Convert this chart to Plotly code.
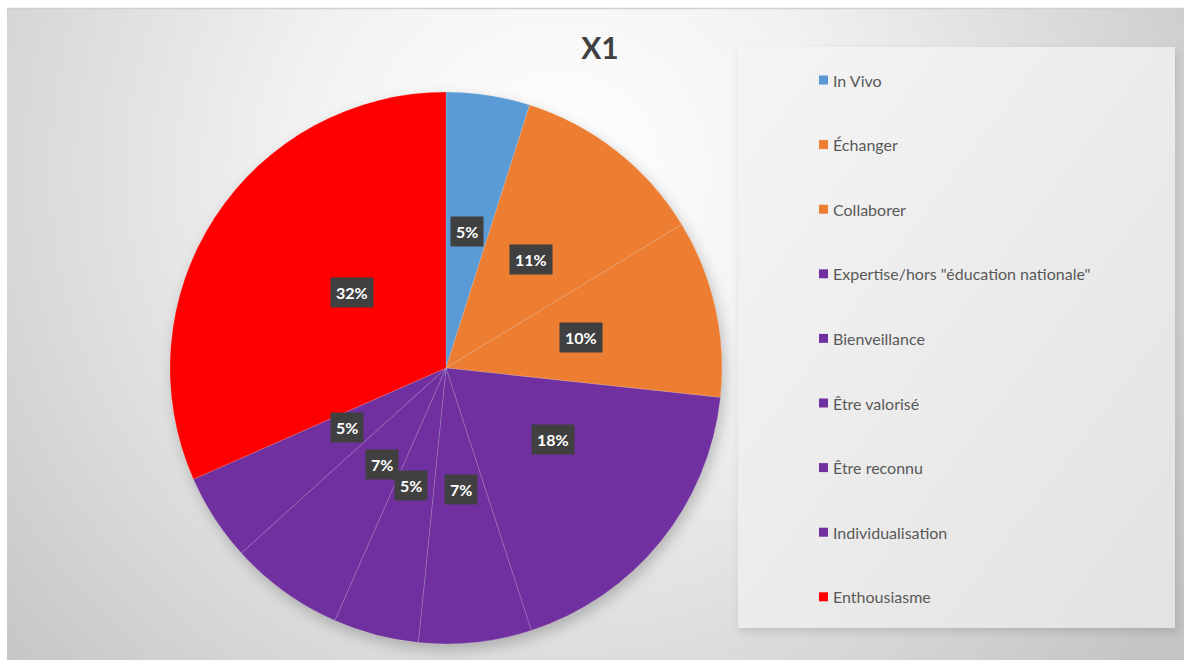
"""Pie chart X1 with boxed percentage labels and a spaced legend panel."""

import base64
import math

import plotly.graph_objects as go

W, H = 1184, 660

LABELS = [
    "In Vivo",
    "Échanger",
    "Collaborer",
    'Expertise/hors "éducation nationale"',
    "Bienveillance",
    "Être valorisé",
    "Être reconnu",
    "Individualisation",
    "Enthousiasme",
]
# shares in %, estimated from the slice boundaries
VALUES = [4.9, 11.4, 10.4, 18.3, 6.6, 5.0, 6.7, 5.1, 31.6]
COLORS = [
    "#5B9BD5",
    "#ED7D31",
    "#ED7D31",
    "#7030A0",
    "#7030A0",
    "#7030A0",
    "#7030A0",
    "#7030A0",
    "#FF0000",
]

# pie geometry in pixels
CX, CY, R = 446, 368, 276

LEGEND_BOX = (738, 47, 1175, 628)
LEGEND_TOP, LEGEND_STEP = 80, 64.6

FONT = "Lato, Open Sans, sans-serif"

bg_svg = f"""<svg xmlns="http://www.w3.org/2000/svg" width="{W}" height="{H}" viewBox="0 0 {W} {H}">
<defs>
<radialGradient id="bg" cx="560" cy="170" r="760" gradientUnits="userSpaceOnUse">
<stop offset="0" stop-color="#ffffff"/>
<stop offset="0.35" stop-color="#f2f2f2"/>
<stop offset="1" stop-color="#c4c4c4"/>
</radialGradient>
<linearGradient id="lg" x1="0" y1="0" x2="1" y2="1">
<stop offset="0" stop-color="#f5f5f5"/>
<stop offset="1" stop-color="#e2e2e2"/>
</linearGradient>
<filter id="blur" x="-20%" y="-20%" width="140%" height="140%"><feGaussianBlur stdDeviation="7"/></filter>
<filter id="blur2" x="-20%" y="-20%" width="140%" height="140%"><feGaussianBlur stdDeviation="4"/></filter>
</defs>
<rect x="0" y="0" width="{W}" height="{H}" fill="#ffffff"/>
<rect x="7" y="9" width="{W - 7}" height="{H - 9}" fill="url(#bg)"/>
<line x1="7" y1="8.5" x2="{W}" y2="8.5" stroke="#d0d0d0" stroke-width="1.5"/>
<circle cx="{CX + 3}" cy="{CY + 6}" r="{R}" fill="#000000" fill-opacity="0.22" filter="url(#blur)"/>
<rect x="{LEGEND_BOX[0] + 2}" y="{LEGEND_BOX[1] + 4}" width="{LEGEND_BOX[2] - LEGEND_BOX[0]}" height="{LEGEND_BOX[3] - LEGEND_BOX[1]}" fill="#000000" fill-opacity="0.12" filter="url(#blur2)"/>
<rect x="{LEGEND_BOX[0]}" y="{LEGEND_BOX[1]}" width="{LEGEND_BOX[2] - LEGEND_BOX[0]}" height="{LEGEND_BOX[3] - LEGEND_BOX[1]}" fill="url(#lg)"/>
</svg>"""
bg_uri = "data:image/svg+xml;base64," + base64.b64encode(bg_svg.encode("utf-8")).decode("ascii")

fig = go.Figure()
fig.add_trace(
    go.Pie(
        labels=LABELS,
        values=VALUES,
        sort=False,
        direction="clockwise",
        rotation=0,
        marker={"colors": COLORS, "line": {"color": "rgba(255,255,255,0.15)", "width": 1}},
        textinfo="none",
        hoverinfo="label+percent",
        showlegend=False,
        domain={
            "x": [(CX - R) / W, (CX + R) / W],
            "y": [1 - (CY + R) / H, 1 - (CY - R) / H],
        },
    )
)

# boxed percentage labels at half radius, mid-angle of each slice
annotations = []
total = sum(VALUES)
cum = 0
for v in VALUES:
    mid = (cum + v / 2) / total * 2 * math.pi
    cum += v
    px = CX + 0.5 * R * math.sin(mid)
    py = CY - 0.5 * R * math.cos(mid)
    annotations.append(
        dict(
            x=px / W,
            y=1 - py / H,
            xref="paper",
            yref="paper",
            text=f"<b>{round(v / total * 100)}%</b>",
            showarrow=False,
            borderpad=5,
            font={"family": FONT, "size": 16, "color": "white"},
            bgcolor="#404040",
        )
    )

# legend entries
shapes = []
for i, (lab, col) in enumerate(zip(LABELS, COLORS)):
    y = LEGEND_TOP + i * LEGEND_STEP
    shapes.append(
        dict(
            type="rect",
            xref="paper",
            yref="paper",
            x0=819 / W,
            x1=828 / W,
            y0=1 - (y + 4.5) / H,
            y1=1 - (y - 4.5) / H,
            fillcolor=col,
            line={"width": 0},
        )
    )
    annotations.append(
        dict(
            x=831 / W,
            y=1 - y / H,
            xref="paper",
            yref="paper",
            xanchor="left",
            yanchor="middle",
            text=lab,
            showarrow=False,
            font={"family": FONT, "size": 16, "color": "#595959"},
        )
    )

fig.update_layout(
    width=W,
    height=H,
    margin={"l": 0, "r": 0, "t": 0, "b": 0},
    paper_bgcolor="white",
    title={
        "text": "<b>X1</b>",
        "x": 600 / W,
        "y": 1 - 48 / H,
        "xanchor": "center",
        "yanchor": "middle",
        "font": {"family": FONT, "size": 30, "color": "#404040"},
    },
    images=[
        dict(
            source=bg_uri,
            xref="paper",
            yref="paper",
            x=0,
            y=1,
            sizex=1,
            sizey=1,
            xanchor="left",
            yanchor="top",
            sizing="stretch",
            layer="below",
        )
    ],
    shapes=shapes,
    annotations=annotations,
)

# drop the default page margin so the figure sits at the window origin
fig.write_html(
    "out.html",
    config={"displayModeBar": False},
    post_script="document.body.style.margin='0';",
)
